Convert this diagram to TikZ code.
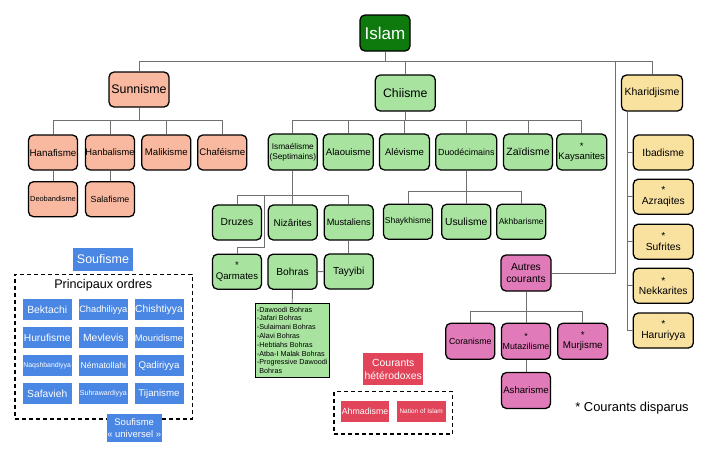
\documentclass[tikz,border=0pt]{standalone}
\usepackage{fontspec}
\setmainfont{Liberation Sans}
\definecolor{sunC}{HTML}{F8B9A0}
\definecolor{chiC}{HTML}{A8E3A0}
\definecolor{khaC}{HTML}{F9E1A0}
\definecolor{autC}{HTML}{E07AB8}
\definecolor{islC}{HTML}{0E7A0E}
\definecolor{sufC}{HTML}{4A86E4}
\definecolor{redC}{HTML}{E2445A}
\definecolor{lineC}{HTML}{707070}
\begin{document}
\begin{tikzpicture}[x=1pt,y=-1pt,
  conn/.style={draw=lineC, line width=0.9pt},
  fz/.style 2 args={font=\fontsize{#1}{#2}\selectfont},
  wd/.style={minimum width=#1pt},
  ht/.style={minimum height=#1pt},
  nb/.style={draw=black, line width=1.3pt, rounded corners=5pt, inner sep=0pt, align=center,
    minimum height=35pt, minimum width=49pt, fz={9.6}{11}},
  sun/.style={nb, fill=sunC},
  chi/.style={nb, fill=chiC},
  kha/.style={nb, fill=khaC, minimum width=60pt, fz={10.3}{11.5}},
  aut/.style={nb, fill=autC},
  sfb/.style={fill=sufC, text=white, inner sep=0pt, minimum width=49pt, minimum height=21pt, align=center, fz={10}{12}},
  hb/.style={fill=redC, text=white, inner sep=0pt, minimum width=49pt, minimum height=20.7pt, align=center, fz={9}{11}},
  dbox/.style={draw=black, line width=1.3pt, dash pattern=on 4pt off 3pt, inner sep=0pt},
]
\fill[white] (0,0) rectangle (725,472);
\useasboundingbox (0,0) rectangle (725,472);

% --- top level
\node[nb, fill=islC, text=white, wd=50, ht=36, fz={17}{20}] (islam) at (385,33) {Islam};
\node[sun, wd=60, fz={12.4}{14}] (sunni) at (139,89.5) {Sunnisme};
\node[chi, wd=60, ht=36, fz={12.3}{14}] (chiisme) at (405.3,93) {Chiisme};
\node[kha, wd=61, ht=36, fz={10.5}{12}] (kharij) at (652,93) {Kharidjisme};

% --- Sunnisme
\node[sun, fz={9.8}{11}] (hanafi) at (53,152.5) {Hanafisme};
\node[sun, fz={9.3}{11}] (hanbali) at (110,152.5) {Hanbalisme};
\node[sun] (maliki) at (166.3,152.5) {Malikisme};
\node[sun] (chafei) at (222.3,152.5) {Chaféisme};
\node[sun, fz={7.4}{9}] (deoband) at (53,199.2) {Deobandisme};
\node[sun, fz={8.8}{10}] (salaf) at (110,199.2) {Salafisme};

% --- Chiisme
\node[chi, ht=36, fz={8.3}{10}] (ismael) at (292.8,152) {Ismaélisme\\(Septimains)};
\node[chi, ht=36, wd=50] (alaoui) at (348.3,152) {Alaouisme};
\node[chi, ht=36, wd=50] (alevi) at (404.5,152) {Alévisme};
\node[chi, ht=36, wd=61, fz={8.9}{10}] (duod) at (466.3,152) {Duodécimains};
\node[chi, ht=36, fz={10.5}{12}] (zaidi) at (528,152) {Zaïdisme};
\node[chi, ht=36, wd=50, fz={9.5}{10.5}] (kaysan) at (581.7,152) {*\\Kaysanites};

\node[chi, fz={8.5}{10}] (shaykh) at (408,221.7) {Shaykhisme};
\node[chi, fz={10.3}{12}] (usul) at (466.3,221.7) {Usulisme};
\node[chi, fz={8.5}{10}] (akhbar) at (521.2,221.7) {Akhbarisme};

\node[chi, fz={10.3}{12}] (druzes) at (237,222.5) {Druzes};
\node[chi, fz={9.8}{11}] (nizar) at (292.8,222.5) {Nizârites};
\node[chi, fz={9.2}{11}] (mustal) at (348.8,222.5) {Mustaliens};
\node[chi, fz={9.6}{10.5}] (qarm) at (237,271.7) {*\\Qarmates};
\node[chi, fz={10.2}{12}] (bohras) at (292.5,271.7) {Bohras};
\node[chi, fz={10.2}{12}] (tayy) at (348.8,271.5) {Tayyibi};
\node[draw=black, line width=1.1pt, fill=chiC, minimum width=74.3pt, minimum height=74pt,
  inner sep=1pt, align=left, fz={7.2}{8.8}] (blist) at (292.2,340.3)
  {-Dawoodi Bohras\\-Jafari Bohras\\-Sulaimani Bohras\\-Alavi Bohras\\-Hebtiahs Bohras\\-Atba-I Malak Bohras\\-Progressive Dawoodi\\\phantom{-}Bohras};

% --- Kharidjisme
\node[kha] (ibad) at (663.3,152.5) {Ibadisme};
\node[kha, fz={10.3}{10.5}] (azraq) at (663.3,196.7) {*\\Azraqites};
\node[kha, fz={10.3}{10.5}] (sufr) at (663.3,241.7) {*\\Sufrites};
\node[kha, fz={10.3}{10.5}] (nekk) at (663.3,285.8) {*\\Nekkarites};
\node[kha, fz={10.3}{10.5}] (harur) at (663.3,330.5) {*\\Haruriyya};

% --- Autres courants
\node[aut, wd=50, ht=36, fz={10.3}{12.5}] (autres) at (526,273) {Autres\\courants};
\node[aut, ht=36, fz={8.8}{10}] (coran) at (470.3,341.3) {Coranisme};
\node[aut, ht=36, fz={8.85}{10}] (mutaz) at (526,341.3) {*\\Mutazilisme};
\node[aut, ht=36, wd=50, fz={9.8}{10.5}] (murj) at (582.8,341.3) {*\\Murjisme};
\node[aut, ht=36, fz={9.6}{11}] (ashar) at (526,390.5) {Asharisme};

% --- Courants hétérodoxes
\node[hb, wd=60, ht=31.7, fz={10.4}{12.5}] (hetlab) at (393.3,369.2) {Courants\\hétérodoxes};
\node[dbox, minimum width=118.7pt, minimum height=42.3pt] (hetbox) at (393.35,412.85) {};
\node[hb, wd=48.6, fz={8.8}{10}] (ahmad) at (365,411.3) {Ahmadisme};
\node[hb, fz={6.5}{8}] (nation) at (421.2,411.3) {Nation of Islam};

% --- Soufisme
\node[sfb, wd=59.4, ht=22.4, fz={12.5}{14}] (souflab) at (103,259.5) {Soufisme};
\node[dbox, minimum width=177.3pt, minimum height=144.7pt] (soufbox) at (103.65,346.65) {};
\node[inner sep=0pt, fz={12.6}{14}] (princ) at (103.3,285.5) {Principaux ordres};
\node[sfb, fz={10.4}{12}] (bekt) at (47.2,309.7) {Bektachi};
\node[sfb, fz={9.3}{11}] (chadh) at (103.3,309.7) {Chadhiliyya};
\node[sfb, fz={10.3}{12}] (chisht) at (159,309.7) {Chishtiyya};
\node[sfb, fz={10.2}{12}] (huruf) at (47.2,337.8) {Hurufisme};
\node[sfb, fz={10.4}{12}] (mevl) at (103.3,337.8) {Mevlevis};
\node[sfb, fz={9.3}{11}] (mourid) at (159,337.8) {Mouridisme};
\node[sfb, fz={6.9}{8}] (naqsh) at (47.2,365.8) {Naqshbandiyya};
\node[sfb, fz={8.6}{10}] (nemat) at (103.3,365.8) {Nématollahi};
\node[sfb, fz={9.7}{11}] (qadir) at (159,365.8) {Qadiriyya};
\node[sfb, fz={10.3}{12}] (safav) at (47.2,393.8) {Safavieh};
\node[sfb, fz={7.1}{8}] (suhr) at (103.3,393.8) {Suhrawardiyya};
\node[sfb, fz={9.7}{11}] (tijan) at (159,393.8) {Tijanisme};
\node[sfb, wd=55, ht=28, fz={9.5}{12}] (souuniv) at (134.2,427.8) {Soufisme\\« universel »};

% --- legend
\node[inner sep=0pt, fz={12.9}{14}] (legend) at (632,408.3) {* Courants disparus};

% --- connectors
\coordinate (busT) at (0,61);
\coordinate (busS) at (0,120.7);
\coordinate (busC) at (0,120.7);
\coordinate (busD) at (0,191.7);
\coordinate (busI) at (0,195);
\coordinate (busA) at (0,311.7);
\coordinate (qb) at (264.3,247.3);
\coordinate (kv) at (627.5,0);
\coordinate (av) at (615,0);

\draw[conn] (islam.south) -- (islam.south |- busT);
\draw[conn] (sunni.north) |- (kharij.north |- busT) -- (kharij.north);
\draw[conn] (chiisme.north) -- (chiisme.north |- busT);
\draw[conn] (autres.east) -| (av |- busT);

\draw[conn] (sunni.south) -- (sunni.south |- busS);
\draw[conn] (hanafi.north) |- (chafei.north |- busS) -- (chafei.north);
\draw[conn] (hanbali.north) -- (hanbali.north |- busS);
\draw[conn] (maliki.north) -- (maliki.north |- busS);
\draw[conn] (hanafi.south) -- (deoband.north);
\draw[conn] (hanbali.south) -- (salaf.north);

\draw[conn] (chiisme.south) -- (chiisme.south |- busC);
\draw[conn] (ismael.north) |- (kaysan.north |- busC) -- (kaysan.north);
\draw[conn] (alaoui.north) -- (alaoui.north |- busC);
\draw[conn] (alevi.north) -- (alevi.north |- busC);
\draw[conn] (duod.north) -- (duod.north |- busC);
\draw[conn] (zaidi.north) -- (zaidi.north |- busC);

\draw[conn] (duod.south) -- (duod.south |- busD);
\draw[conn] (shaykh.north) |- (akhbar.north |- busD) -- (akhbar.north);
\draw[conn] (usul.north) -- (usul.north |- busD);

\draw[conn] (ismael.south) -- (ismael.south |- busI);
\draw[conn] (druzes.north) |- (mustal.north |- busI) -- (mustal.north);
\draw[conn] (nizar.north) -- (nizar.north |- busI);
\draw[conn] (qarm.north) |- (qb) -- (qb |- busI);
\draw[conn] (mustal.south) -- (tayy.north);
\draw[conn] (bohras.east) -- (tayy.west);
\draw[conn] (bohras.south) -- (blist.north);

\draw[conn] (kharij.south -| kv) -- (kv |- harur.west) -- (harur.west);
\draw[conn] (kv |- ibad.west) -- (ibad.west);
\draw[conn] (kv |- azraq.west) -- (azraq.west);
\draw[conn] (kv |- sufr.west) -- (sufr.west);
\draw[conn] (kv |- nekk.west) -- (nekk.west);

\draw[conn] (autres.south) -- (autres.south |- busA);
\draw[conn] (coran.north) |- (murj.north |- busA) -- (murj.north);
\draw[conn] (mutaz.north) -- (mutaz.north |- busA);
\draw[conn] (mutaz.south) -- (ashar.north);
\end{tikzpicture}
\end{document}
